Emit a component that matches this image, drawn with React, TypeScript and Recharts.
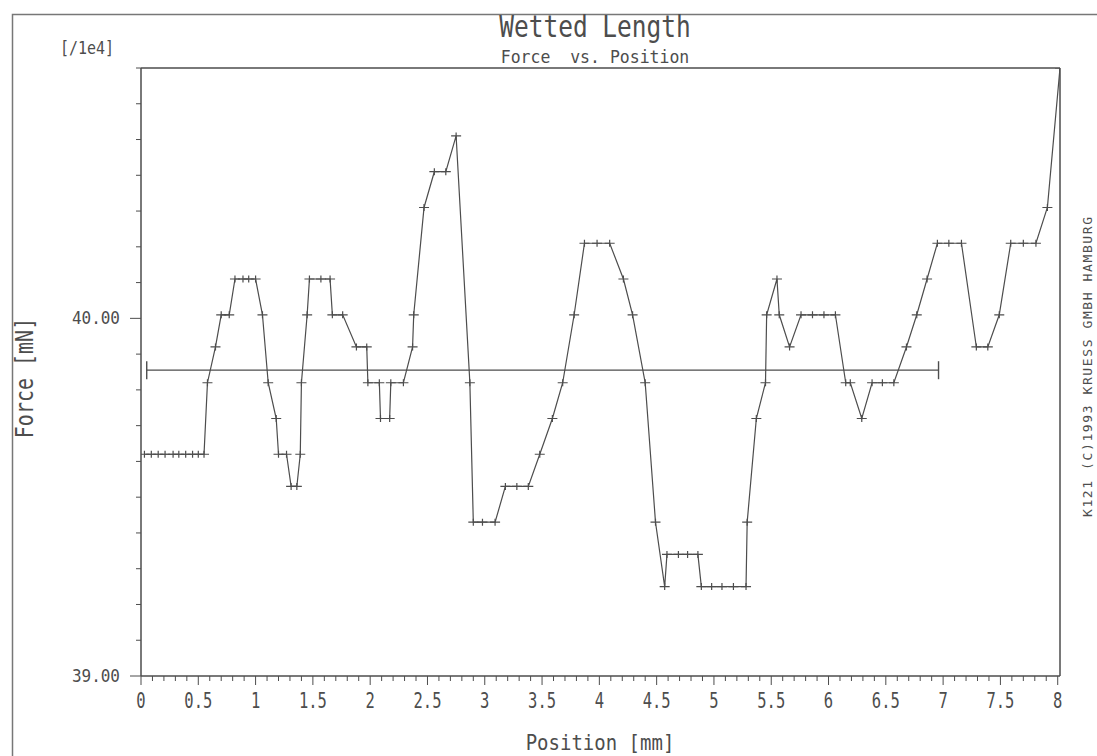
import { LineChart, Line, XAxis, YAxis, ReferenceLine } from "recharts";

// measured positions (mm) and force readings (mN, shown /1e4)
const positions = [
  0.03, 0.09, 0.15, 0.21, 0.28, 0.33, 0.39, 0.45, 0.5, 0.55,
  0.58, 0.65, 0.7, 0.77, 0.82, 0.89, 0.94, 1.0, 1.06, 1.11,
  1.18, 1.2, 1.27, 1.31, 1.36, 1.39, 1.4, 1.45, 1.47, 1.57,
  1.65, 1.67, 1.76, 1.88, 1.97, 1.98, 2.08, 2.09, 2.17, 2.18,
  2.29, 2.37, 2.38, 2.47, 2.56, 2.66, 2.75, 2.87, 2.9, 2.98,
  3.09, 3.18, 3.28, 3.38, 3.48, 3.59, 3.68, 3.78, 3.87, 3.98,
  4.09, 4.21, 4.29, 4.4, 4.49, 4.57, 4.59, 4.69, 4.77, 4.86,
  4.89, 4.98, 5.07, 5.17, 5.28, 5.29, 5.37, 5.45, 5.46, 5.55,
  5.57, 5.66, 5.76, 5.86, 5.96, 6.06, 6.15, 6.19, 6.29, 6.38,
  6.47, 6.57, 6.68, 6.77, 6.86, 6.95, 7.05, 7.16, 7.29, 7.39,
  7.49, 7.59, 7.7, 7.81, 7.91, 8.02,
];
const forces = [
  39.62, 39.62, 39.62, 39.62, 39.62, 39.62, 39.62, 39.62, 39.62, 39.62,
  39.82, 39.92, 40.01, 40.01, 40.11, 40.11, 40.11, 40.11, 40.01, 39.82,
  39.72, 39.62, 39.62, 39.53, 39.53, 39.62, 39.82, 40.01, 40.11, 40.11,
  40.11, 40.01, 40.01, 39.92, 39.92, 39.82, 39.82, 39.72, 39.72, 39.82,
  39.82, 39.92, 40.01, 40.31, 40.41, 40.41, 40.51, 39.82, 39.43, 39.43,
  39.43, 39.53, 39.53, 39.53, 39.62, 39.72, 39.82, 40.01, 40.21, 40.21,
  40.21, 40.11, 40.01, 39.82, 39.43, 39.25, 39.34, 39.34, 39.34, 39.34,
  39.25, 39.25, 39.25, 39.25, 39.25, 39.43, 39.72, 39.82, 40.01, 40.11,
  40.01, 39.92, 40.01, 40.01, 40.01, 40.01, 39.82, 39.82, 39.72, 39.82,
  39.82, 39.82, 39.92, 40.01, 40.11, 40.21, 40.21, 40.21, 39.92, 39.92,
  40.01, 40.21, 40.21, 40.21, 40.31, 40.7,
];

// mean force bar
const meanPositions = [0.05, 6.96];
const meanForce = 39.855;

const yLabelTicks = [39, 40];

const INK = "#4d4d4d";
const FONT = "'DejaVu Sans Mono', 'Liberation Mono', monospace";

const data = positions.map((x, i) => ({ x, force: forces[i] }));
const meanData = meanPositions.map((x) => ({ x, mean: meanForce }));

// 0.1 mm minor ticks, 0.1 mN minor ticks
const xTicks = Array.from({ length: 81 }, (_, i) => i / 10);
const yTicks = Array.from({ length: 18 }, (_, i) => Math.round(390 + i) / 10);

function fmtX(v: number): string {
  return Number.isInteger(v) ? String(v) : v.toFixed(1);
}

function XTick(props: any) {
  const { x, y, payload } = props;
  const v = payload.value as number;
  const major = Math.abs(v * 2 - Math.round(v * 2)) < 1e-6;
  return (
    <g>
      <line x1={x} x2={x} y1={y} y2={y + (major ? 9 : 5)} stroke={INK} strokeWidth={1} />
      {major && (
        <text
          transform={`translate(${x},${y + 32}) scale(1,1.35)`}
          textAnchor="middle"
          fontSize={15.5}
          fontFamily={FONT}
          fill={INK}
        >
          {fmtX(v)}
        </text>
      )}
    </g>
  );
}

function YTick(props: any) {
  const { x, y, payload } = props;
  const v = payload.value as number;
  const labeled = yLabelTicks.includes(v);
  return (
    <g>
      <line x1={x - (labeled ? 11 : 5)} x2={x} y1={y} y2={y} stroke={INK} strokeWidth={1} />
      {labeled && (
        <text
          transform={`translate(${x - 21},${y + 6}) scale(1,1.1)`}
          textAnchor="end"
          fontSize={16}
          fontFamily={FONT}
          fill={INK}
        >
          {v.toFixed(2)}
        </text>
      )}
    </g>
  );
}

const renderCross = (p: any) => {
  const { cx, cy, index } = p;
  if (cx == null || cy == null) return <g key={`c${index}`} />;
  return (
    <path
      key={`c${index}`}
      d={`M${cx - 5},${cy}H${cx + 5}M${cx},${cy - 3.5}V${cy + 3.5}`}
      stroke={INK}
      strokeWidth={1.2}
      fill="none"
    />
  );
};

const renderCap = (p: any) => {
  const { cx, cy, index } = p;
  if (cx == null || cy == null) return <g key={`m${index}`} />;
  return (
    <path key={`m${index}`} d={`M${cx},${cy - 9}V${cy + 9}`} stroke={INK} strokeWidth={1.4} fill="none" />
  );
};

export default function App() {
  return (
    <div style={{ position: "fixed", left: 0, top: 0, width: 1097, height: 756, background: "#fff", overflow: "hidden" }}>
      <LineChart width={1097} height={756} data={data} margin={{ top: 68, right: 37, bottom: 0, left: 0 }}>
        <XAxis
          dataKey="x"
          type="number"
          domain={[0, 8.02]}
          ticks={xTicks}
          interval={0}
          height={80}
          tickSize={0}
          tickMargin={0}
          tickLine={false}
          tick={<XTick />}
          axisLine={{ stroke: INK, strokeWidth: 1.5 }}
          allowDataOverflow
        />
        <YAxis
          type="number"
          domain={[39, 40.7]}
          ticks={yTicks}
          interval={0}
          width={141}
          tickSize={0}
          tickMargin={0}
          tickLine={false}
          tick={<YTick />}
          axisLine={{ stroke: INK, strokeWidth: 1.5 }}
          allowDataOverflow
        />
        <ReferenceLine y={40.7} stroke={INK} strokeWidth={1.5} />
        <ReferenceLine x={8.02} stroke={INK} strokeWidth={1.5} />
        <Line
          data={meanData}
          dataKey="mean"
          type="linear"
          stroke={INK}
          strokeWidth={1.3}
          dot={renderCap}
          isAnimationActive={false}
        />
        <Line
          dataKey="force"
          type="linear"
          stroke={INK}
          strokeWidth={1.2}
          dot={renderCross}
          isAnimationActive={false}
        />
      </LineChart>
      <svg
        width={1097}
        height={756}
        style={{ position: "absolute", left: 0, top: 0, pointerEvents: "none" }}
      >
        <path d="M12.5,756V14.5H1097" stroke="#777" strokeWidth={1.5} fill="none" />
        <g fontFamily={FONT} fill={INK}>
          <text transform="translate(595,37) scale(1,1.22)" textAnchor="middle" fontSize={24.5}>
            Wetted Length
          </text>
          <text
            transform="translate(595,63) scale(1,1.1)"
            textAnchor="middle"
            fontSize={16.5}
            style={{ whiteSpace: "pre" }}
          >
            {"Force  vs. Position"}
          </text>
          <text transform="translate(60,54) scale(1,1.2)" fontSize={15}>
            [/1e4]
          </text>
          <text transform="translate(33,378) rotate(-90) scale(1,1.2)" textAnchor="middle" fontSize={20}>
            Force [mN]
          </text>
          <text transform="translate(600,750) scale(1,1.15)" textAnchor="middle" fontSize={19}>
            Position [mm]
          </text>
          <text
            transform="translate(1092,367) rotate(-90)"
            textAnchor="middle"
            fontSize={13}
            textLength={300}
            lengthAdjust="spacing"
          >
            K121 (C)1993 KRUESS GMBH HAMBURG
          </text>
        </g>
      </svg>
    </div>
  );
}
